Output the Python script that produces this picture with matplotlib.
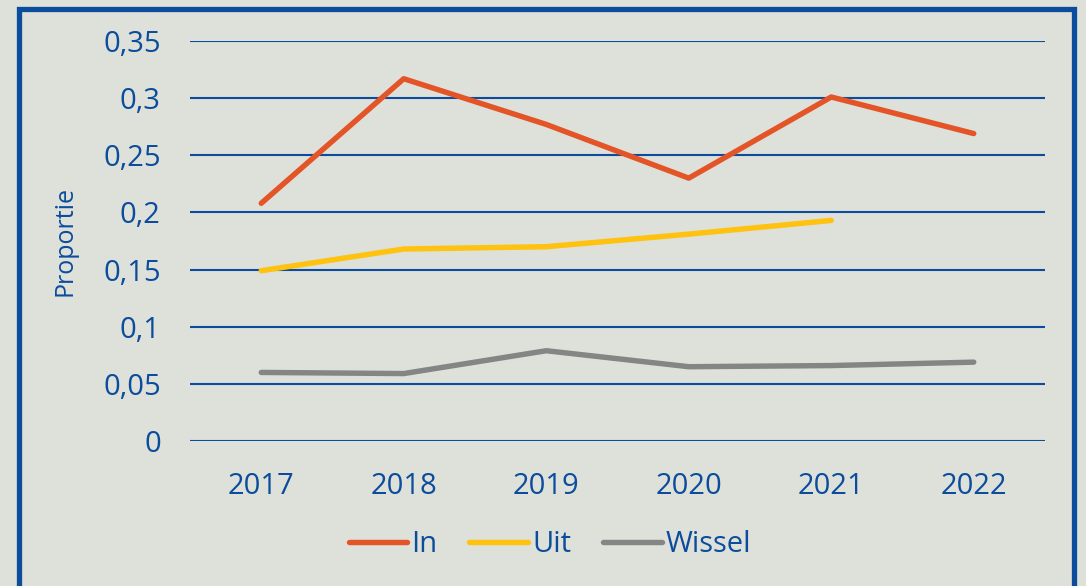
import numpy as np
import matplotlib
matplotlib.use('Agg')
import matplotlib.pyplot as plt
from matplotlib.patches import Rectangle
from matplotlib.ticker import FuncFormatter

years = ['2017', '2018', '2019', '2020', '2021', '2022']
in_vals = [0.208, 0.317, 0.277, 0.230, 0.301, 0.269]
uit_vals = [0.149, 0.168, 0.170, 0.181, 0.193]
wissel_vals = [0.060, 0.059, 0.079, 0.065, 0.066, 0.069]

blue = '#0b4c9c'
bg = '#dee0da'

plt.rcParams['font.family'] = ['Open Sans', 'DejaVu Sans']

fig = plt.figure(figsize=(10.86, 5.86), dpi=100, facecolor=bg)
ax = fig.add_axes([190 / 1086, 1 - 441 / 586, 855 / 1086, 400 / 586])
ax.set_facecolor(bg)

x = np.arange(len(years))
ax.plot(x, in_vals, color='#e35426', lw=3.9, solid_capstyle='round', label='In', zorder=3)
ax.plot(x[:len(uit_vals)], uit_vals, color='#ffc20e', lw=3.9, solid_capstyle='round', label='Uit', zorder=3)
ax.plot(x, wissel_vals, color='#858585', lw=3.9, solid_capstyle='round', label='Wissel', zorder=3)

ax.set_xlim(-0.5, 5.5)
ax.set_ylim(0, 0.35)
ax.set_yticks(np.arange(0, 0.351, 0.05))
ax.yaxis.set_major_formatter(FuncFormatter(lambda v, p: ('%.2f' % v).rstrip('0').rstrip('.').replace('.', ',') if v > 0 else '0'))
ax.set_xticks(x)
ax.set_xticklabels(years)
ax.grid(axis='y', color=blue, lw=1.5)
ax.set_axisbelow(True)
for s in ax.spines.values():
    s.set_visible(False)
ax.tick_params(length=0, colors=blue, labelsize=21)
ax.tick_params(axis='y', pad=21)
ax.tick_params(axis='x', pad=22)
ax.set_ylabel('Proportie', color=blue, fontsize=18)
ax.yaxis.set_label_coords(-0.132, 0.5)

leg = ax.legend(loc='center', bbox_to_anchor=(550 / 1086, 1 - 545 / 586),
                bbox_transform=fig.transFigure, ncol=3, frameon=False,
                fontsize=21, labelcolor=blue, handlelength=2.0, handletextpad=0.15,
                columnspacing=1.1)
for h in leg.get_lines():
    h.set_solid_capstyle('round')

# outer border
fig.patches.append(Rectangle((18.5 / 1086, -0.05), (1074 - 18.5) / 1086, (1 - 8.5 / 586) + 0.05,
                             transform=fig.transFigure, fill=False, edgecolor=blue, lw=3.8))

fig.savefig('out.png', dpi=100, facecolor=bg)
